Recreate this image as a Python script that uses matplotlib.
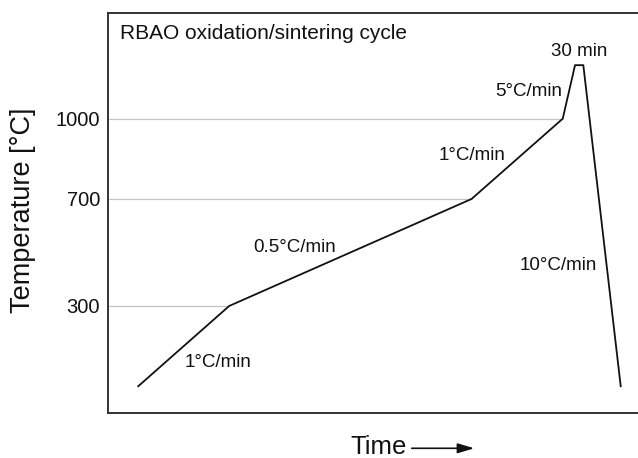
import numpy as np
import matplotlib
matplotlib.use("Agg")
import matplotlib.pyplot as plt

plt.rcParams['font.family'] = ['Liberation Sans', 'DejaVu Sans']

# schematic firing cycle (time in arbitrary units)
time_pts = [30, 121, 363.5, 454.7, 467, 475.3, 512.7]
temp_pts = [0, 300, 700, 1000, 1200, 1200, 0]

ytick_vals = [300, 700, 1000]

# segment annotations: text, time, temperature (baseline)
seg_labels = ["1°C/min", "0.5°C/min", "1°C/min", "5°C/min", "30 min", "10°C/min"]
seg_x = [110, 186, 364, 420.5, 471, 450.7]
seg_y = [70, 500, 846, 1086, 1236, 434]

title_text = "RBAO oxidation/sintering cycle"


fig = plt.figure(figsize=(6.38, 4.58), dpi=100)
ax = fig.add_axes([0.1697, 0.0983, 0.8303, 0.8733])

# gray guide lines from the axis to the curve
for t in ytick_vals:
    x_end = time_pts[temp_pts.index(t)]
    ax.hlines(t, 0, x_end, color='#c4c4c4', lw=0.9, zorder=1)

ax.plot(time_pts, temp_pts, color='#111111', lw=1.3, zorder=2)

for txt, x, y in zip(seg_labels, seg_x, seg_y):
    ax.text(x, y, txt, ha='center', va='baseline', fontsize=13.5, color='#111111')

ax.text(12, 1296, title_text, ha='left', va='baseline', fontsize=15, color='#111111')

ax.set_xlim(0, 530)
ax.set_ylim(-100, 1395)
ax.set_xticks([])
ax.set_yticks(ytick_vals)
ax.set_yticklabels([str(v) for v in ytick_vals])
ax.tick_params(axis='y', length=0, pad=6, labelsize=14.5, labelcolor='#111111')

for side in ['left', 'top', 'bottom']:
    ax.spines[side].set_color('#333333')
    ax.spines[side].set_linewidth(1.4)
ax.spines['right'].set_visible(False)

fig.text(0.036, 0.541, "Temperature [°C]", rotation=90, ha='center', va='center',
         fontsize=19.5, color='#111111')
fig.text(350 / 638, 0.008, "Time", ha='left', va='baseline', fontsize=18.5, color='#111111')
fig.patches.append(matplotlib.patches.FancyArrowPatch(
    (409 / 638, 0.0212), (477 / 638, 0.0212), transform=fig.transFigure,
    arrowstyle='-|>,head_length=10,head_width=3', mutation_scale=1,
    color='#111111', lw=1.2))

fig.savefig("out.png", dpi=100)
